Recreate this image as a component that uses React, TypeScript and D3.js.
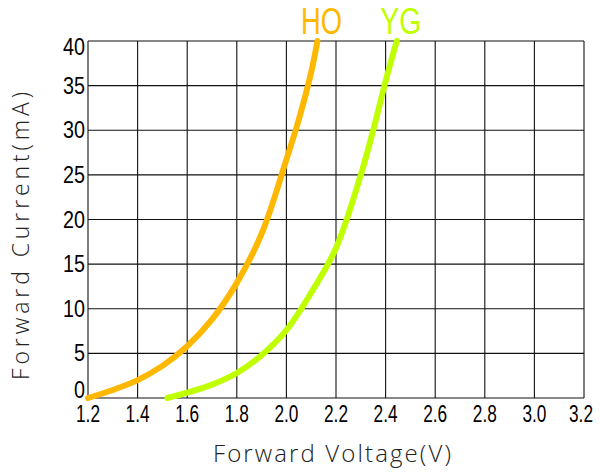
import React from "react";
import * as d3 from "d3";

// forward voltage (V) vs forward current (mA)
const hoVoltage = [1.2, 1.3, 1.4, 1.5, 1.6, 1.7, 1.8, 1.9, 2.0, 2.05, 2.1, 2.125];
const hoCurrent = [0, 0.9, 2.0, 3.6, 5.8, 8.8, 12.9, 18.4, 26.7, 31.2, 36.5, 40];

const ygVoltage = [1.52, 1.6, 1.7, 1.8, 1.9, 2.0, 2.1, 2.2, 2.3, 2.35, 2.4, 2.445];
const ygCurrent = [0, 0.6, 1.5, 2.8, 4.8, 7.6, 11.8, 16.8, 25, 30, 35.5, 40];

const seriesNames = ["HO", "YG"];
const seriesColors = ["#FFB800", "#BFFF00"];

const xTicks = [1.2, 1.4, 1.6, 1.8, 2.0, 2.2, 2.4, 2.6, 2.8, 3.0, 3.2];
const yTicks = [0, 5, 10, 15, 20, 25, 30, 35, 40];

const width = 600;
const height = 474;
const margin = { top: 41, right: 16, bottom: 76, left: 88 };

export default function App() {
  const x = d3.scaleLinear().domain([1.2, 3.2]).range([margin.left, width - margin.right]);
  const y = d3.scaleLinear().domain([0, 40]).range([height - margin.bottom, margin.top]);

  const series = [
    hoVoltage.map((v, i) => [v, hoCurrent[i]] as [number, number]),
    ygVoltage.map((v, i) => [v, ygCurrent[i]] as [number, number]),
  ];

  const line = d3
    .line<[number, number]>()
    .x((d) => x(d[0]))
    .y((d) => y(d[1]))
    .curve(d3.curveCatmullRom.alpha(0.5));

  const tickFont = "'Liberation Sans', Arial, sans-serif";
  const titleFont = "'Open Sans', 'DejaVu Sans', sans-serif";

  return (
    <svg
      width={width}
      height={height}
      style={{ position: "absolute", left: 0, top: 0, background: "#fff" }}
    >
      {/* grid */}
      <g stroke="#111" strokeWidth={1.1}>
        {xTicks.map((t) => (
          <line key={"gx" + t} x1={x(t)} x2={x(t)} y1={y(0)} y2={y(40)} />
        ))}
        {yTicks.map((t) => (
          <line key={"gy" + t} x1={x(1.2)} x2={x(3.2)} y1={y(t)} y2={y(t)} />
        ))}
      </g>

      {/* tick labels */}
      <g fontFamily={tickFont} fontSize={23} fill="#000">
        {yTicks.map((t) => (
          <text
            key={"ly" + t}
            x={margin.left - 3}
            y={Math.min(Math.max(y(t), 47), 390)}
            dy="0.35em"
            textAnchor="end"
            textLength={t < 10 ? 11 : 22}
            lengthAdjust="spacingAndGlyphs"
          >
            {t}
          </text>
        ))}
        {xTicks.map((t) => (
          <text
            key={"lx" + t}
            x={Math.min(x(t), width - 19)}
            y={422}
            textAnchor="middle"
            textLength={24}
            lengthAdjust="spacingAndGlyphs"
          >
            {t.toFixed(1)}
          </text>
        ))}
      </g>

      {/* curves */}
      {series.map((s, i) => (
        <path
          key={seriesNames[i]}
          d={line(s) || ""}
          fill="none"
          stroke={seriesColors[i]}
          strokeWidth={6}
          strokeLinecap="round"
        />
      ))}

      {/* series labels */}
      {series.map((s, i) => (
        <text
          key={"n" + seriesNames[i]}
          x={x(s[s.length - 1][0]) + 4}
          y={34}
          textAnchor="middle"
          fontFamily={tickFont}
          fontSize={37}
          fill={seriesColors[i]}
          textLength={41}
          lengthAdjust="spacingAndGlyphs"
        >
          {seriesNames[i]}
        </text>
      ))}

      {/* axis titles */}
      <text
        x={332}
        y={462}
        textAnchor="middle"
        fontFamily={titleFont}
        fontWeight={300}
        fontSize={24}
        fill="#222"
        textLength={238}
        lengthAdjust="spacing"
      >
        Forward Voltage(V)
      </text>
      <text
        transform="translate(29,236) rotate(-90)"
        textAnchor="middle"
        fontFamily={titleFont}
        fontWeight={300}
        fontSize={23}
        fill="#222"
        textLength={288}
        lengthAdjust="spacing"
      >
        Forward Current(mA)
      </text>
    </svg>
  );
}
